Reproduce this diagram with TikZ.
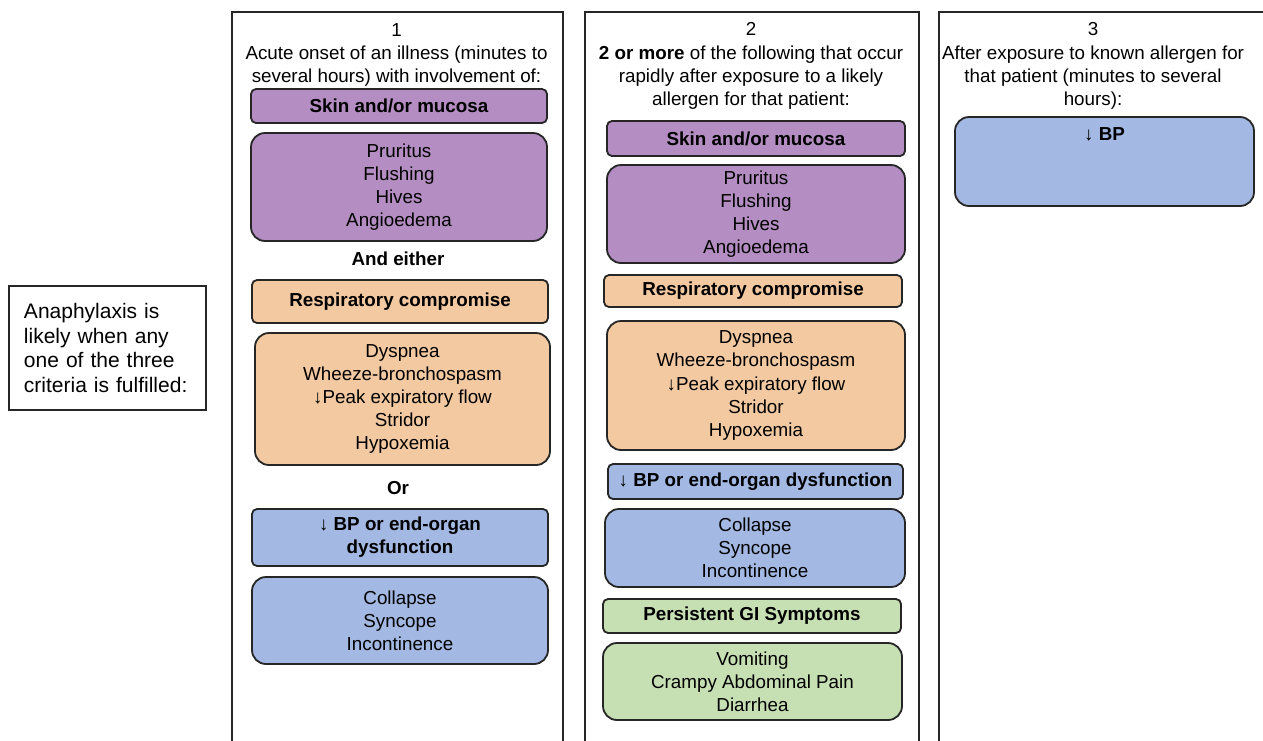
\documentclass[tikz,border=0pt]{standalone}
\usepackage{fontspec}
\setmainfont{Liberation Sans}
\usetikzlibrary{positioning}
\definecolor{skinpurple}{HTML}{B48EC2}
\definecolor{resppeach}{HTML}{F2C9A1}
\definecolor{bpblue}{HTML}{A3B9E3}
\definecolor{gigreen}{HTML}{C6E0B4}
\definecolor{edge}{HTML}{262626}

\begin{document}
\begin{tikzpicture}[
  x=0.5pt,y=-0.5pt,
  font=\fontsize{9.4}{11.6}\selectfont,
  column/.style={draw=edge,line width=0.8pt,inner sep=0pt,anchor=north west,minimum width=#1,minimum height=380pt},
  hdr/.style={draw=edge,line width=0.9pt,rounded corners=2.5pt,inner sep=0pt,align=center,font=\fontsize{9.4}{11.6}\selectfont\bfseries},
  lst/.style={draw=edge,line width=0.9pt,rounded corners=7pt,inner sep=0pt,align=center},
  ttl/.style={align=center,inner sep=0pt},
  joiner/.style={inner sep=0pt,font=\fontsize{9.4}{11.6}\selectfont\bfseries}
]
\useasboundingbox (0,0) rectangle (1263,740);
\clip (0,0) rectangle (1263,740);

% intro box
\node[draw=edge,line width=0.8pt,inner xsep=7.5pt,inner ysep=0pt,text width=83.5pt,minimum height=62pt,align=left,
      font=\fontsize{10.5}{12.3}\selectfont] (intro) at (107.5,348)
  {Anaphylaxis is\\likely when any\\one of the three\\criteria is fulfilled:};

% the three criteria columns
\node[column=165.5pt] (col1) at (231,11) {};
\node[column=167pt]   (col2) at (584,11) {};
\node[column=170pt]   (col3) at (938,11) {};

% criterion 1
\node[ttl] (t1) at (396.5,55) {1\\Acute onset of an illness (minutes to\\several hours) with involvement of:};
\node[hdr,fill=skinpurple,minimum width=148pt,minimum height=17pt] (skin1) at (399,106) {Skin and/or mucosa};
\node[lst,fill=skinpurple,minimum width=148pt,minimum height=54pt] (sym1) at (399,187) {Pruritus\\Flushing\\Hives\\Angioedema};
\node[joiner] (and1) at (398,259) {And either};
\node[hdr,fill=resppeach,minimum width=148pt,minimum height=21.5pt] (resp1) at (400,301.5) {Respiratory compromise};
\node[lst,fill=resppeach,minimum width=147.5pt,minimum height=66pt] (dys1) at (402.5,399)
  {Dyspnea\\Wheeze-bronchospasm\\↓Peak expiratory flow\\Stridor\\Hypoxemia};
\node[joiner] (or1) at (398,488) {Or};
\node[hdr,fill=bpblue,minimum width=148pt,minimum height=28.5pt] (bp1) at (400,537.5) {↓ BP or end-organ\\dysfunction};
\node[lst,fill=bpblue,minimum width=148pt,minimum height=43.5pt] (col1l) at (400,620.5) {Collapse\\Syncope\\Incontinence};

% criterion 2
\node[ttl] (t2) at (751,66) {2\\\textbf{2 or more} of the following that occur\\rapidly after exposure to a likely\\allergen for that patient:};
\node[hdr,fill=skinpurple,minimum width=149pt,minimum height=17.5pt] (skin2) at (756,138.5) {Skin and/or mucosa};
\node[lst,fill=skinpurple,minimum width=149pt,minimum height=49pt] (sym2) at (756,214) {Pruritus\\Flushing\\Hives\\Angioedema};
\node[hdr,fill=resppeach,minimum width=149pt,minimum height=16pt] (resp2) at (753,291) {Respiratory compromise};
\node[lst,fill=resppeach,minimum width=149pt,minimum height=64.5pt] (dys2) at (756,385.5)
  {Dyspnea\\Wheeze-bronchospasm\\↓Peak expiratory flow\\Stridor\\Hypoxemia};
\node[hdr,fill=bpblue,minimum width=147.5pt,minimum height=17.5pt] (bp2) at (755.5,481.5) {↓ BP or end-organ dysfunction};
\node[lst,fill=bpblue,minimum width=150pt,minimum height=39pt] (col2l) at (755,548) {Collapse\\Syncope\\Incontinence};
\node[hdr,fill=gigreen,minimum width=149pt,minimum height=17pt] (gi2) at (752,616) {Persistent GI Symptoms};
\node[lst,fill=gigreen,minimum width=149.5pt,minimum height=38.5pt] (vom2) at (752.5,681.5) {Vomiting\\Crampy Abdominal Pain\\Diarrhea};

% criterion 3
\node[ttl] (t3) at (1093,66) {3\\After exposure to known allergen for\\that patient (minutes to several\\hours):};
\node[lst,fill=bpblue,minimum width=149.5pt,minimum height=44.5pt] (bp3) at (1104.5,161.5) {};
\node[joiner,anchor=north] (bp3t) at ([yshift=-5.5pt]bp3.north) {↓ BP};
\end{tikzpicture}
\end{document}
